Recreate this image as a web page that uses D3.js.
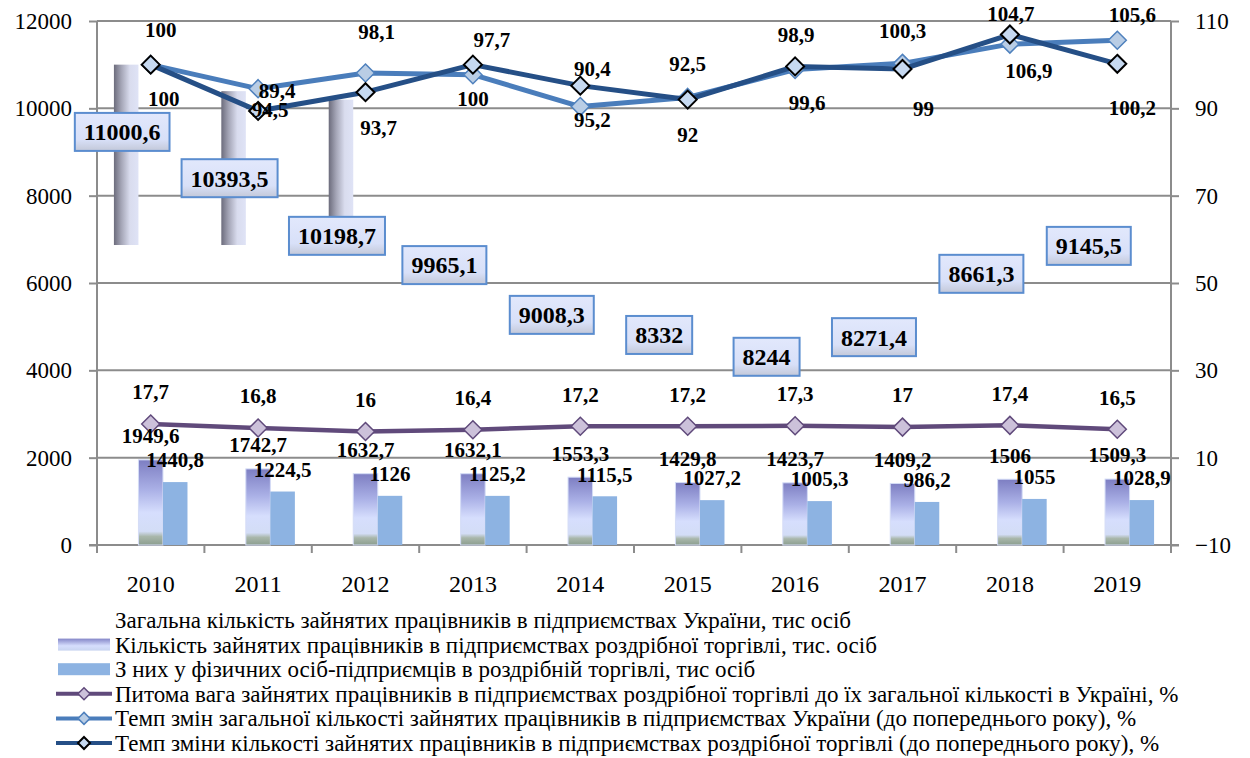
<!DOCTYPE html>
<html>
<head>
<meta charset="utf-8">
<script src="https://cdn.jsdelivr.net/npm/d3@7"></script>
<style>
  body { margin: 0; background: #fff; }
</style>
</head>
<body>
<div id="chart"></div>
<script>
// ---- data ----
var years = ["2010","2011","2012","2013","2014","2015","2016","2017","2018","2019"];
var totalEmployed = [11000.6, 10393.5, 10198.7, 9965.1, 9008.3, 8332, 8244, 8271.4, 8661.3, 9145.5];
var retailEmployed = [1949.6, 1742.7, 1632.7, 1632.1, 1553.3, 1429.8, 1423.7, 1409.2, 1506, 1509.3];
var fopEmployed = [1440.8, 1224.5, 1126, 1125.2, 1115.5, 1027.2, 1005.3, 986.2, 1055, 1028.9];
var retailShare = [17.7, 16.8, 16, 16.4, 17.2, 17.2, 17.3, 17, 17.4, 16.5];
var totalRate = [100, 94.5, 98.1, 97.7, 90.4, 92.5, 98.9, 100.3, 104.7, 105.6];
var retailRate = [100, 89.4, 93.7, 100, 95.2, 92, 99.6, 99, 106.9, 100.2];
var leftTicks = [0, 2000, 4000, 6000, 8000, 10000, 12000];
var rightTicks = [-10, 10, 30, 50, 70, 90, 110];

// the "total" bars only show for the first years in the source picture, from this floor up
var totalBarYears = ["2010","2011","2012"];
var totalBarFloor = 6870;
// left-scale level where each boxed total label was dragged to
var totalLabelLevel = [9460, 8400, 7080, 6410, 5270, 4810, 4310, 4760, 6210, 6850];

var legendNames = [
  "Загальна кількість зайнятих працівників в підприємствах України, тис осіб",
  "Кількість зайнятих працівників в підприємствах роздрібної торгівлі, тис. осіб",
  "З них у фізичних осіб-підприємців в роздрібній торгівлі, тис осіб",
  "Питома вага зайнятих працівників в підприємствах роздрібної торгівлі до їх загальної кількості в Україні, %",
  "Темп змін загальної кількості зайнятих працівників в підприємствах України (до попереднього року), %",
  "Темп зміни кількості зайнятих працівників в підприємствах роздрібної торгівлі (до попереднього року), %"
];

// label nudges (px) for the two rate lines
var totalRateNudge = { dx: [10,12,11,19,12,0,1,0,1,15], dy: [-35,21,-41,-35,-38,-34,-35,-33,-30,-26] };
var retailRateNudge = { dx: [13,19,13,0,12,0,12,21,19,15], dy: [34,-20,35,34,34,35,36,40,36,44] };

// ---- layout ----
var width = 1250, height = 758;
var plot = { left: 97, right: 1171, top: 21, bottom: 545 };
var gridColor = "#8c8c8c";
var serif = "'Liberation Serif', 'Times New Roman', 'DejaVu Serif', serif";

function fmt(v) { return String(v).replace(".", ","); }

var svg = d3.select("#chart").append("svg")
    .attr("width", width)
    .attr("height", height)
    .attr("font-family", serif);

var defs = svg.append("defs");

var cyl = defs.append("linearGradient").attr("id", "cyl").attr("x1", 0).attr("x2", 1).attr("y1", 0).attr("y2", 0);
cyl.append("stop").attr("offset", "0%").attr("stop-color", "#6c6c7c");
cyl.append("stop").attr("offset", "30%").attr("stop-color", "#a4a5b6");
cyl.append("stop").attr("offset", "65%").attr("stop-color", "#d9dcee");
cyl.append("stop").attr("offset", "100%").attr("stop-color", "#dfe3f6");

var retailGrad = defs.append("linearGradient").attr("id", "retailGrad").attr("x1", 0).attr("x2", 0).attr("y1", 0).attr("y2", 1);
retailGrad.append("stop").attr("offset", "0%").attr("stop-color", "#7d7ec2");
retailGrad.append("stop").attr("offset", "35%").attr("stop-color", "#aab0e6");
retailGrad.append("stop").attr("offset", "62%").attr("stop-color", "#d6defd");
retailGrad.append("stop").attr("offset", "84%").attr("stop-color", "#d3ddf6");
retailGrad.append("stop").attr("offset", "90%").attr("stop-color", "#a9b7ab");
retailGrad.append("stop").attr("offset", "100%").attr("stop-color", "#8c9e8f");

var legendRetail = defs.append("linearGradient").attr("id", "legendRetail").attr("x1", 0).attr("x2", 0).attr("y1", 0).attr("y2", 1);
legendRetail.append("stop").attr("offset", "0%").attr("stop-color", "#8486c8");
legendRetail.append("stop").attr("offset", "60%").attr("stop-color", "#d6defd");
legendRetail.append("stop").attr("offset", "100%").attr("stop-color", "#c8d4f0");

var boxGrad = defs.append("linearGradient").attr("id", "boxGrad").attr("x1", 0).attr("x2", 0).attr("y1", 0).attr("y2", 1);
boxGrad.append("stop").attr("offset", "0%").attr("stop-color", "#e2e8fc");
boxGrad.append("stop").attr("offset", "70%").attr("stop-color", "#d8e0f8");
boxGrad.append("stop").attr("offset", "100%").attr("stop-color", "#c3c8d8");

// ---- scales ----
var x0 = d3.scaleBand().domain(years).range([plot.left, plot.right]).padding(0);
var x1 = d3.scaleBand().domain(["total", "retail", "fop"]).range([0, x0.bandwidth()])
    .paddingInner(0).paddingOuter(0.69);
var yLeft = d3.scaleLinear().domain([0, 12000]).range([plot.bottom, plot.top]);
var yRight = d3.scaleLinear().domain([-10, 110]).range([plot.bottom, plot.top]);
var xc = function(d) { return x0(d) + x0.bandwidth() / 2; };

// ---- grid ----
var grid = svg.append("g");
grid.selectAll("line").data(leftTicks.filter(function(t) { return t > 0; })).enter().append("line")
    .attr("x1", plot.left).attr("x2", plot.right)
    .attr("y1", function(d) { return yLeft(d); }).attr("y2", function(d) { return yLeft(d); })
    .attr("stroke", gridColor).attr("stroke-width", 2);

// ---- axes ----
var leftAxis = svg.append("g").attr("transform", "translate(" + plot.left + ",0)")
    .call(d3.axisLeft(yLeft).tickValues(leftTicks).tickSize(8).tickPadding(17).tickFormat(d3.format("d")));
var rightAxis = svg.append("g").attr("transform", "translate(" + plot.right + ",0)")
    .call(d3.axisRight(yRight).tickValues(rightTicks).tickSize(8).tickPadding(16).tickFormat(d3.format("d")));
var bottomAxis = svg.append("g").attr("transform", "translate(0," + plot.bottom + ")")
    .call(d3.axisBottom(x0).tickSize(0).tickPadding(30));

[leftAxis, rightAxis].forEach(function(ax) { ax.attr("font-family", serif).attr("font-size", 23); });
bottomAxis.attr("font-family", serif).attr("font-size", 24);
[leftAxis, rightAxis, bottomAxis].forEach(function(ax) {
  ax.select(".domain").attr("stroke", gridColor).attr("stroke-width", 2);
  ax.selectAll(".tick line").attr("stroke", gridColor).attr("stroke-width", 2);
  ax.selectAll(".tick text").attr("fill", "#000");
});
leftAxis.select(".domain").remove();
rightAxis.select(".domain").remove();
svg.append("line").attr("x1", plot.left).attr("x2", plot.left).attr("y1", plot.top).attr("y2", plot.bottom + 8)
    .attr("stroke", gridColor).attr("stroke-width", 2);
svg.append("line").attr("x1", plot.right).attr("x2", plot.right).attr("y1", plot.top).attr("y2", plot.bottom + 8)
    .attr("stroke", gridColor).attr("stroke-width", 2);
bottomAxis.select(".domain").attr("d", "M" + (plot.left - 8) + ",0H" + (plot.right + 8));
// category boundary ticks
svg.append("g").selectAll("line").data(years.slice(1)).enter().append("line")
    .attr("x1", function(d) { return x0(d); }).attr("x2", function(d) { return x0(d); })
    .attr("y1", plot.bottom).attr("y2", plot.bottom + 8)
    .attr("stroke", gridColor).attr("stroke-width", 2);

// ---- bars ----
var bars = svg.append("g");
bars.selectAll("rect.total").data(years.filter(function(y) { return totalBarYears.indexOf(y) >= 0; })).enter().append("rect")
    .attr("class", "total")
    .attr("x", function(d) { return x0(d) + x1("total"); })
    .attr("width", x1.bandwidth())
    .attr("y", function(d) { return yLeft(totalEmployed[years.indexOf(d)]); })
    .attr("height", function(d) { return yLeft(totalBarFloor) - yLeft(totalEmployed[years.indexOf(d)]); })
    .attr("fill", "url(#cyl)");

bars.selectAll("rect.retail").data(years).enter().append("rect")
    .attr("class", "retail")
    .attr("x", function(d) { return x0(d) + x1("retail"); })
    .attr("width", x1.bandwidth())
    .attr("y", function(d, i) { return yLeft(retailEmployed[i]); })
    .attr("height", function(d, i) { return yLeft(0) - yLeft(retailEmployed[i]); })
    .attr("fill", "url(#retailGrad)")
    .attr("stroke", "#d4dcf6").attr("stroke-width", 1);

bars.selectAll("rect.fop").data(years).enter().append("rect")
    .attr("class", "fop")
    .attr("x", function(d) { return x0(d) + x1("fop"); })
    .attr("width", x1.bandwidth())
    .attr("y", function(d, i) { return yLeft(fopEmployed[i]); })
    .attr("height", function(d, i) { return yLeft(0) - yLeft(fopEmployed[i]); })
    .attr("fill", "#8db3e2");

// ---- lines ----
function diamond(sel, r) {
  return sel.attr("d", "M0," + (-r) + "L" + r + ",0L0," + r + "L" + (-r) + ",0Z");
}

function drawLine(values, color, lineWidth, markerFill, markerStroke, markerStrokeWidth) {
  var g = svg.append("g");
  var line = d3.line()
      .x(function(d, i) { return xc(years[i]); })
      .y(function(d) { return yRight(d); });
  g.append("path").datum(values)
      .attr("d", line)
      .attr("fill", "none")
      .attr("stroke", color)
      .attr("stroke-width", lineWidth)
      .attr("stroke-linejoin", "round");
  g.selectAll("path.mk").data(values).enter().append("path")
      .attr("class", "mk")
      .call(diamond, 9)
      .attr("transform", function(d, i) { return "translate(" + xc(years[i]) + "," + yRight(d) + ")"; })
      .attr("fill", markerFill)
      .attr("stroke", markerStroke)
      .attr("stroke-width", markerStrokeWidth);
  return g;
}

drawLine(retailShare, "#604a7b", 4.5, "#ccc1da", "#604a7b", 1.5);
drawLine(totalRate, "#4a7dbb", 5, "#b9cde5", "#4f81bd", 1.5);
drawLine(retailRate, "#254f86", 5, "#c6d9f1", "#000", 2);

// ---- data labels ----
var labels = svg.append("g").attr("font-weight", "bold").attr("font-size", 21).attr("text-anchor", "middle");

labels.selectAll("text.share").data(retailShare).enter().append("text")
    .attr("x", function(d, i) { return xc(years[i]); })
    .attr("y", function(d) { return yRight(d) - 32; })
    .attr("dy", "0.35em")
    .text(fmt);

labels.selectAll("text.trate").data(totalRate).enter().append("text")
    .attr("x", function(d, i) { return xc(years[i]) + totalRateNudge.dx[i]; })
    .attr("y", function(d, i) { return yRight(d) + totalRateNudge.dy[i]; })
    .attr("dy", "0.35em")
    .text(fmt);

labels.selectAll("text.rrate").data(retailRate).enter().append("text")
    .attr("x", function(d, i) { return xc(years[i]) + retailRateNudge.dx[i]; })
    .attr("y", function(d, i) { return yRight(d) + retailRateNudge.dy[i]; })
    .attr("dy", "0.35em")
    .text(fmt);

labels.selectAll("text.retail").data(retailEmployed).enter().append("text")
    .attr("x", function(d, i) { return x0(years[i]) + x1("retail") + x1.bandwidth() / 2; })
    .attr("y", function(d) { return yLeft(d) - 24; })
    .attr("dy", "0.35em")
    .text(fmt);

labels.selectAll("text.fop").data(fopEmployed).enter().append("text")
    .attr("x", function(d, i) { return x0(years[i]) + x1("fop") + x1.bandwidth() / 2; })
    .attr("y", function(d) { return yLeft(d) - 22; })
    .attr("dy", "0.35em")
    .text(fmt);

// boxed total labels
var boxes = svg.append("g");
totalEmployed.forEach(function(v, i) {
  var cx = x0(years[i]) + x1("total") + x1.bandwidth() / 2 - 4;
  var cy = yLeft(totalLabelLevel[i]);
  var g = boxes.append("g");
  var rect = g.append("rect");
  var t = g.append("text")
      .attr("x", cx).attr("y", cy).attr("dy", "0.35em")
      .attr("text-anchor", "middle")
      .attr("font-weight", "bold").attr("font-size", 24)
      .text(fmt(v));
  var w = t.node().getComputedTextLength() + 18;
  rect.attr("x", cx - w / 2).attr("y", cy - 19).attr("width", w).attr("height", 38)
      .attr("fill", "url(#boxGrad)")
      .attr("stroke", "#5b8dcf").attr("stroke-width", 2);
});

// ---- legend ----
var legend = svg.append("g");
var legendY = d3.scalePoint().domain(d3.range(legendNames.length)).range([620, 743]);
var symX = 58, symW = 52;

legend.selectAll("text").data(legendNames).enter().append("text")
    .attr("x", 115)
    .attr("y", function(d, i) { return legendY(i); })
    .attr("dy", "0.35em")
    .attr("font-size", 23)
    .text(function(d) { return d; });

legend.append("rect").attr("x", symX).attr("y", legendY(1) - 6).attr("width", symW).attr("height", 12)
    .attr("fill", "url(#legendRetail)");
legend.append("rect").attr("x", symX).attr("y", legendY(2) - 6).attr("width", symW).attr("height", 12)
    .attr("fill", "#8db3e2");

var legendLines = [
  { row: 3, color: "#604a7b", fill: "#ccc1da", stroke: "#604a7b", sw: 1.5 },
  { row: 4, color: "#4a7dbb", fill: "#b9cde5", stroke: "#4f81bd", sw: 1.5 },
  { row: 5, color: "#254f86", fill: "#c6d9f1", stroke: "#000", sw: 2 }
];
legendLines.forEach(function(s) {
  var y = legendY(s.row);
  legend.append("line").attr("x1", symX - 2).attr("x2", symX + symW + 2).attr("y1", y).attr("y2", y)
      .attr("stroke", s.color).attr("stroke-width", 4);
  legend.append("path").call(diamond, 6)
      .attr("transform", "translate(" + (symX + symW / 2) + "," + y + ")")
      .attr("fill", s.fill).attr("stroke", s.stroke).attr("stroke-width", s.sw);
});
</script>
</body>
</html>
